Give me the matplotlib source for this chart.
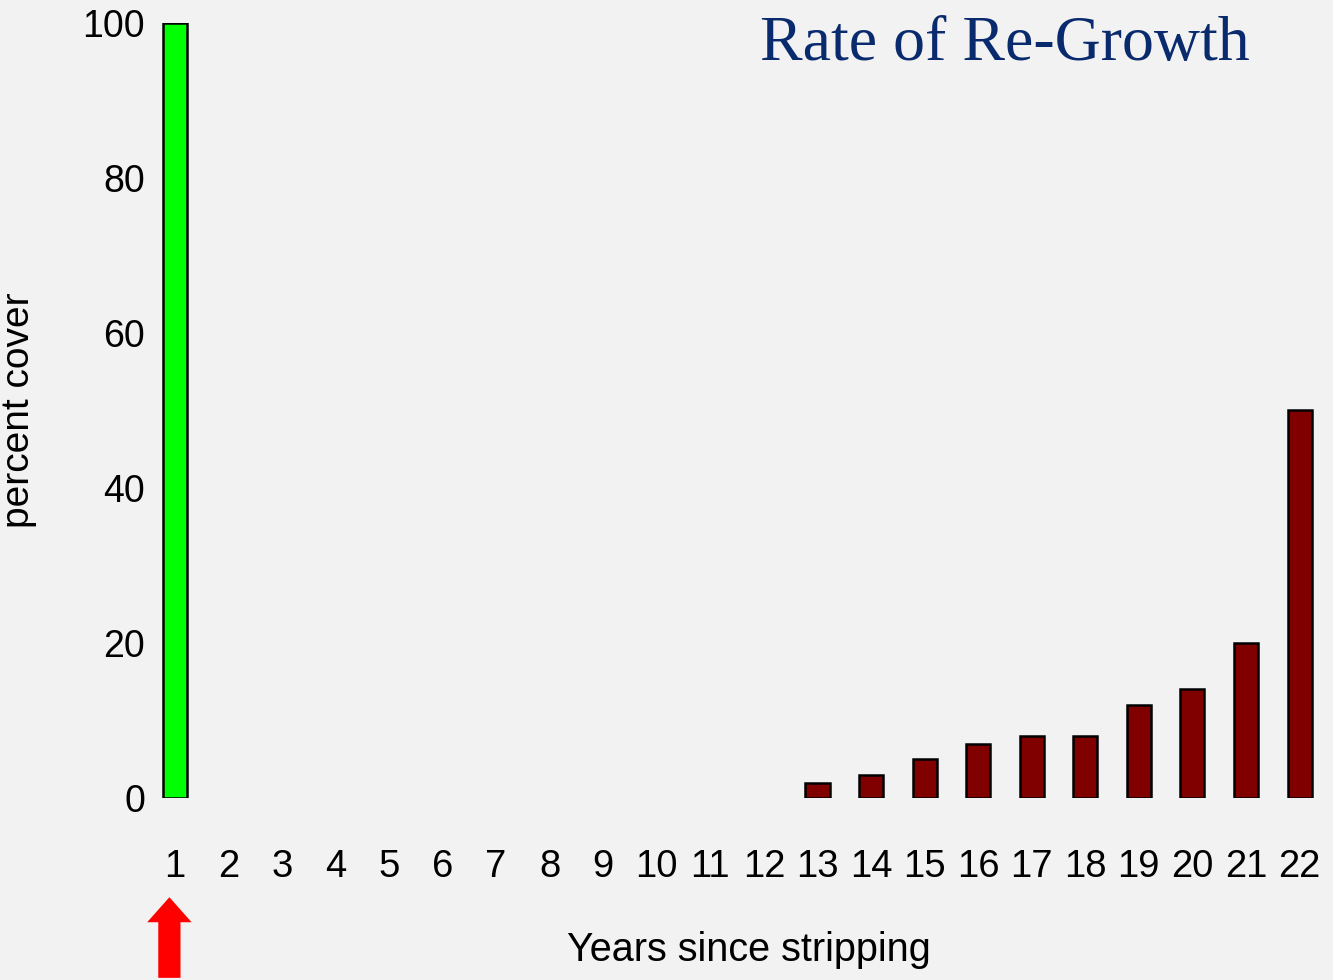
from matplotlib import pyplot as plt

years = list(range(1, 23))
cover = [100, 0, 0, 0, 0, 0, 0, 0, 0, 0, 0, 0, 2, 3, 5, 7, 8, 8, 12, 14, 20, 50]
bar_colors = ['#00ff00'] + ['#800000'] * 21
title = "Rate of Re-Growth"

plt.rcParams['font.family'] = ['Liberation Sans', 'DejaVu Sans']

fig = plt.figure(figsize=(13.33, 9.8), dpi=100, facecolor='#f2f2f2')
ax = fig.add_axes([0.111, 0.1857, 0.884, 0.791], facecolor='#f2f2f2')

heights = [v if v > 0 else float('nan') for v in cover]
ax.bar(years, heights, width=0.45, color=bar_colors, edgecolor='black', linewidth=1.8)

ax.set_xlim(0.5, 22.5)
ax.set_ylim(0, 100)
ax.set_xticks(years)
ax.set_yticks([0, 20, 40, 60, 80, 100])
ax.tick_params(axis='x', length=0, pad=37, labelsize=27.5)
ax.tick_params(axis='y', length=0, pad=2, labelsize=27)
for s in ax.spines.values():
    s.set_visible(False)

ax.set_xlabel("Years since stripping", fontsize=28.5, labelpad=33)
ax.xaxis.label.set_x(0.51)
ax.set_ylabel("percent cover", fontsize=28, labelpad=33)

ax.text(0.935, 0.9716, title, transform=ax.transAxes, ha='right', va='center',
        fontsize=46, color='#0a2a6e', family=['Liberation Serif', 'DejaVu Serif'])

# red arrow under year 1
ax.annotate('', xy=(0.9, -0.128), xytext=(0.9, -0.232),
            xycoords=('data', 'axes fraction'), textcoords=('data', 'axes fraction'),
            arrowprops=dict(facecolor='red', edgecolor='none', width=16, headwidth=32, headlength=18),
            annotation_clip=False)

fig.savefig('out.png', dpi=100, facecolor=fig.get_facecolor())
